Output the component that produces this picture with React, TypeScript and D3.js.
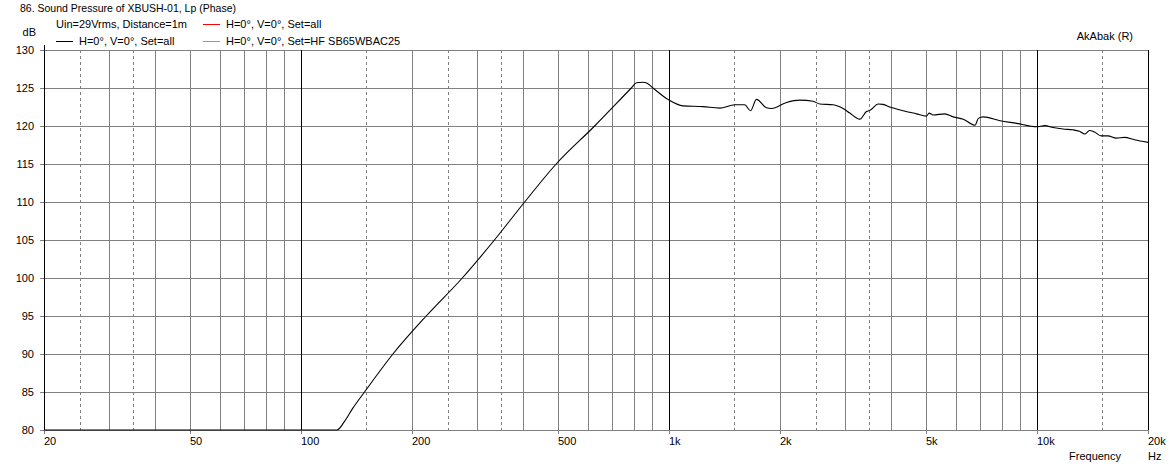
import * as d3 from "d3"

// frequency response readings (Hz, dB)
const freqs = [
    20, 125, 131, 138, 148.6, 177.5, 218.6, 274, 335, 404.7, 493, 627, 789, 815, 847, 865, 903, 992,
    1090, 1236, 1372, 1507, 1604, 1663, 1726, 1838, 1896, 2083, 2265, 2461, 2566, 2789, 2969, 3095,
    3296, 3435, 3523, 3697, 3812, 3979, 4324, 4700, 5002, 5085, 5212, 5607, 5914, 6297, 6778, 6918,
    7134, 7925, 8796, 9955, 10490, 11040, 11750, 12500, 13030, 13460, 13870, 14310, 14920, 15560,
    16400, 17260, 18370, 20000,
]
const levels = [
    80, 80, 81.1, 82.85, 85, 90, 95, 100, 105, 110, 115, 120, 125, 125.7, 125.75, 125.7, 125, 123.5,
    122.65, 122.55, 122.35, 122.8, 122.8, 122.0, 123.5, 122.4, 122.3, 123.1, 123.4, 123.25, 122.9, 122.8,
    122.3, 121.7, 120.9, 121.9, 122.1, 122.9, 122.85, 122.5, 122.0, 121.6, 121.3, 121.7, 121.45, 121.6,
    121.2, 120.9, 120.1, 121.0, 121.2, 120.7, 120.35, 119.9, 120.05, 119.8, 119.6, 119.5, 119.3, 118.95,
    119.4, 119.2, 118.7, 118.7, 118.4, 118.5, 118.2, 117.85,
]

const xTickValues = [20, 50, 100, 200, 500, 1000, 2000, 5000, 10000, 20000]
const xTickLabels = ["20", "50", "100", "200", "500", "1k", "2k", "5k", "10k", "20k"]
const yTickValues = [80, 85, 90, 95, 100, 105, 110, 115, 120, 125, 130]
const solidMinor = [30, 40, 50, 60, 70, 80, 90, 200, 300, 400, 500, 600, 700, 800, 900,
    2000, 3000, 4000, 5000, 6000, 7000, 8000, 9000]
const dashedMinor = [25, 35, 150, 250, 350, 1500, 2500, 3500, 15000]
const decades = [100, 1000, 10000]

const title = "86. Sound Pressure of XBUSH-01, Lp (Phase)"
const legendItems = [
    { label: "Uin=29Vrms, Distance=1m", color: null },
    { label: "H=0°, V=0°, Set=all", color: "#ff0000" },
    { label: "H=0°, V=0°, Set=all", color: "#000000" },
    { label: "H=0°, V=0°, Set=HF SB65WBAC25", color: "#00ff00" },
]

const W = 1174
const H = 467
const left = 44
const right = 1148
const top = 50
const bottom = 430
const grey = "#808080"
const font = "'Liberation Sans', Arial, sans-serif"

const px = (v: number) => Math.round(v) + 0.5

export default function App() {
    const x = d3.scaleLog().domain([20, 20000]).range([left, right])
    const y = d3.scaleLinear().domain([80, 130]).range([bottom, top])

    const points: [number, number][] = freqs.map((f, i) => [f, levels[i]])
    const line = d3.line<[number, number]>()
        .x((d) => x(d[0]))
        .y((d) => y(d[1]))
        .curve(d3.curveMonotoneX)

    const legendPos = [
        { x: 56, y: 24 },
        { x: 203, y: 24 },
        { x: 56, y: 41 },
        { x: 203, y: 41 },
    ]

    return (
        <svg width={W} height={H} style={{ position: "absolute", left: 0, top: 0, background: "#fff" }}
            fontFamily={font} fontSize={11}>
            <rect width={W} height={H} fill="#fff" />
            <text x={20} y={12} fill="#000" textLength={216} lengthAdjust="spacingAndGlyphs">{title}</text>
            {legendItems.map((d, i) => {
                const p = legendPos[i]
                if (!d.color) return <text key={i} x={p.x} y={p.y + 4} fill="#000">{d.label}</text>
                return (
                    <g key={i}>
                        <line x1={p.x} x2={p.x + 17} y1={p.y + 0.5} y2={p.y + 0.5} stroke={d.color} shapeRendering="crispEdges" />
                        <text x={p.x + 23} y={p.y + 4} fill="#000">{d.label}</text>
                    </g>
                )
            })}
            <text x={1133} y={40} textAnchor="end" fill="#000">AkAbak (R)</text>

            {/* grid */}
            <g shapeRendering="crispEdges">
                {yTickValues.map((v) => (
                    <line key={"h" + v} x1={left} x2={right} y1={px(y(v))} y2={px(y(v))} stroke={grey} />
                ))}
                {solidMinor.map((f) => (
                    <line key={"s" + f} x1={px(x(f))} x2={px(x(f))} y1={top} y2={bottom} stroke={grey} />
                ))}
                {dashedMinor.map((f) => (
                    <line key={"d" + f} x1={px(x(f))} x2={px(x(f))} y1={top} y2={bottom} stroke={grey} strokeDasharray="3,3" />
                ))}
                {decades.map((f) => (
                    <line key={"k" + f} x1={px(x(f))} x2={px(x(f))} y1={top} y2={bottom} stroke="#000" />
                ))}
                <line x1={px(left)} x2={px(left)} y1={45} y2={bottom + 3} stroke="#000" />
                <line x1={px(right)} x2={px(right)} y1={top} y2={bottom + 3} stroke="#000" />
                {yTickValues.map((v) => (
                    <line key={"yt" + v} x1={left - 4} x2={left} y1={px(y(v))} y2={px(y(v))} stroke={grey} />
                ))}
                {xTickValues.map((f) => (
                    <line key={"xt" + f} x1={px(x(f))} x2={px(x(f))} y1={bottom} y2={bottom + 4} stroke={grey} />
                ))}
            </g>

            <path d={line(points) ?? ""} fill="none" stroke="#000" strokeWidth={1.1} />

            {/* axis labels */}
            <text x={36} y={36} textAnchor="end" fill="#000">dB</text>
            {yTickValues.map((v) => (
                <text key={"yl" + v} x={34} y={y(v) + 4} textAnchor="end" fill="#000">{v}</text>
            ))}
            {xTickValues.map((f, i) => (
                <text key={"xl" + f} x={Math.round(x(f))} y={445} fill="#000">{xTickLabels[i]}</text>
            ))}
            <text x={1121} y={460} textAnchor="end" fill="#000">Frequency</text>
            <text x={1148} y={460} fill="#000">Hz</text>
        </svg>
    )
}
